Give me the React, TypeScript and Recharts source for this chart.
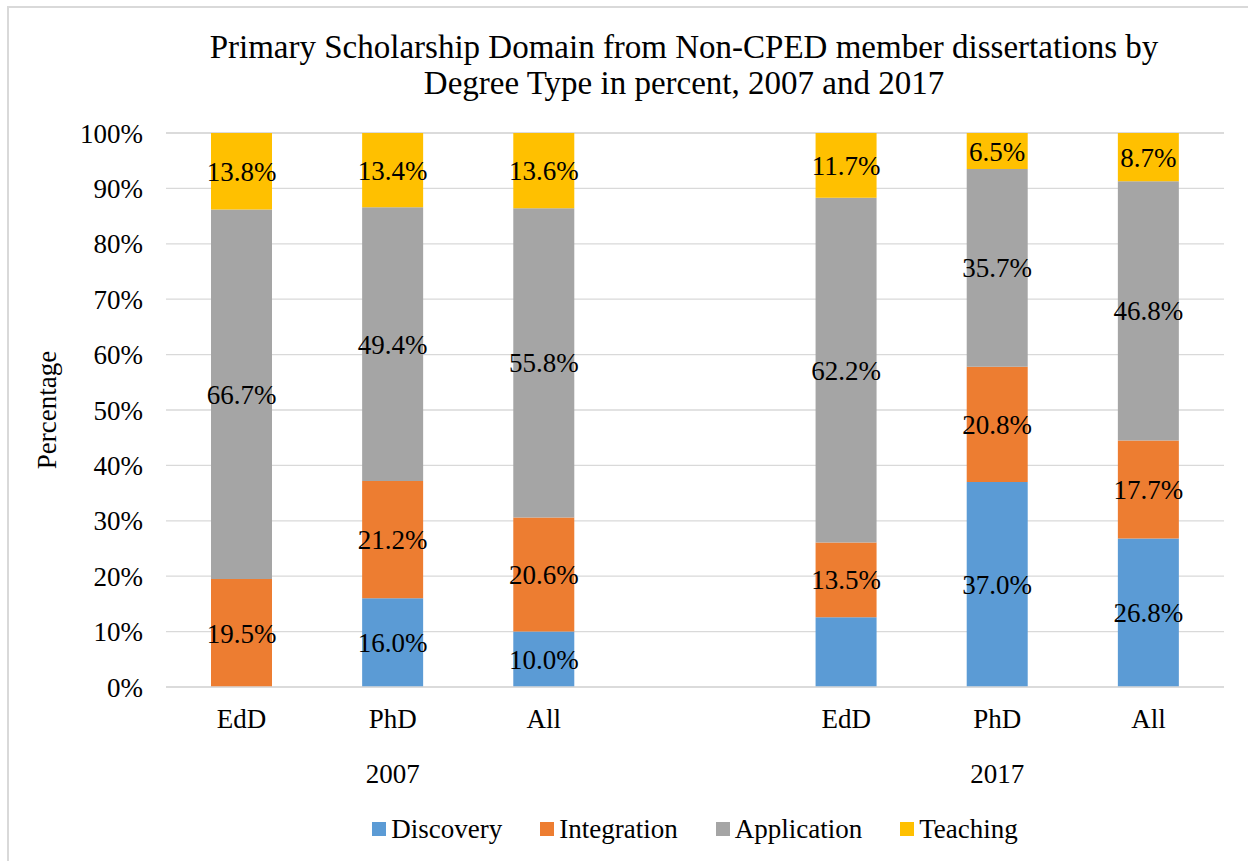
import React from 'react';
import { BarChart, Bar, XAxis, YAxis, CartesianGrid, Legend, LabelList } from 'recharts';

const FONT = '"Liberation Serif", "Times New Roman", serif';
const FS = 27;

const categories = ['EdD', 'PhD', 'All', '', 'EdD', 'PhD', 'All'];
const years = ['2007', '2007', '2007', '', '2017', '2017', '2017'];
const discovery = [0, 16.0, 10.0, null, 12.6, 37.0, 26.8];
const integration = [19.5, 21.2, 20.6, null, 13.5, 20.8, 17.7];
const application = [66.7, 49.4, 55.8, null, 62.2, 35.7, 46.8];
const teaching = [13.8, 13.4, 13.6, null, 11.7, 6.5, 8.7];
const discoveryLabelShown = [false, true, true, false, false, true, true];
const yTicks = [0, 10, 20, 30, 40, 50, 60, 70, 80, 90, 100];

const seriesNames = ['Discovery', 'Integration', 'Application', 'Teaching'];
const COLORS: Record<string, string> = {
  Discovery: '#5B9BD5',
  Integration: '#ED7D31',
  Application: '#A5A5A5',
  Teaching: '#FFC000',
};

const fmt = (v: number | null) => (v == null || v === 0 ? '' : `${v.toFixed(1)}%`);

const data = categories.map((c, i) => ({
  cat: c,
  year: years[i],
  Discovery: discovery[i],
  Integration: integration[i],
  Application: application[i],
  Teaching: teaching[i],
  dLabel: discoveryLabelShown[i] ? fmt(discovery[i]) : '',
  iLabel: fmt(integration[i]),
  aLabel: fmt(application[i]),
  tLabel: fmt(teaching[i]),
}));

// middle index of each year group
const groupMid: Record<number, string> = {};
{
  let start = 0;
  for (let i = 1; i <= years.length; i++) {
    if (i === years.length || years[i] !== years[start]) {
      if (years[start]) groupMid[Math.floor((start + i - 1) / 2)] = years[start];
      start = i;
    }
  }
}

const XTick = (props: any) => {
  const { x, y, payload } = props;
  const i = payload.index;
  return (
    <g>
      <text x={x} y={y + 41} textAnchor="middle" fontFamily={FONT} fontSize={FS} fill="#000">
        {payload.value}
      </text>
      {groupMid[i] ? (
        <text x={x} y={y + 96} textAnchor="middle" fontFamily={FONT} fontSize={FS} fill="#000">
          {groupMid[i]}
        </text>
      ) : null}
    </g>
  );
};

const LegendContent = (props: any) => {
  const payload = [...(props.payload || [])].sort(
    (a: any, b: any) => seriesNames.indexOf(a.value) - seriesNames.indexOf(b.value)
  );
  return (
    <div style={{ display: 'flex', justifyContent: 'center', alignItems: 'center', fontFamily: FONT, fontSize: FS, color: '#000', height: 40 }}>
      {payload.map((p: any, idx: number) => (
        <span key={p.value} style={{ display: 'flex', alignItems: 'center', marginLeft: idx === 0 ? 0 : 38 }}>
          <span style={{ display: 'inline-block', width: 14, height: 14, background: p.color, marginRight: 5 }} />
          {p.value}
        </span>
      ))}
    </div>
  );
};

const YLabel = (props: any) => {
  const { viewBox } = props;
  const cx = viewBox.x - 59;
  const cy = viewBox.y + viewBox.height / 2;
  return (
    <text x={cx} y={cy} transform={`rotate(-90 ${cx} ${cy})`} textAnchor="middle" dominantBaseline="central" fontFamily={FONT} fontSize={FS} fill="#000">
      Percentage
    </text>
  );
};

const labelStyle = { fontFamily: FONT, fontSize: FS, fill: '#000' };

export default function App() {
  return (
    <div style={{ position: 'absolute', left: 0, top: 0, width: 1248, height: 861, background: '#fff', overflow: 'hidden' }}>
      <div style={{ position: 'absolute', left: 7, top: 6, width: 1300, height: 900, borderTop: '2px solid #D9D9D9', borderLeft: '2px solid #D9D9D9' }} />
      <div style={{ position: 'absolute', left: 184, top: 29, width: 1000, textAlign: 'center', fontFamily: FONT, fontSize: 33, lineHeight: '36px', color: '#000', whiteSpace: 'nowrap' }}>
        Primary Scholarship Domain from Non-CPED member dissertations by
        <br />
        Degree Type in percent, 2007 and 2017
      </div>
      <div style={{ position: 'absolute', left: 0, top: 0 }}>
        <BarChart width={1248} height={861} data={data} margin={{ top: 133, right: 24, bottom: 12, left: 106 }} barSize={61}>
          <CartesianGrid vertical={false} stroke="#D9D9D9" strokeWidth={1.3} />
          <XAxis dataKey="cat" tick={<XTick />} tickLine={false} axisLine={{ stroke: '#D9D9D9', strokeWidth: 1.3 }} tickSize={0} tickMargin={0} height={122} interval={0} />
          <YAxis
            type="number"
            domain={[0, 100]}
            ticks={yTicks}
            tickFormatter={(v: number) => `${v}%`}
            axisLine={false}
            tickLine={false}
            tickSize={0}
            tickMargin={23}
            width={60}
            tick={{ fontFamily: FONT, fontSize: FS, fill: '#000' }}
            label={<YLabel />}
          />
          <Legend verticalAlign="bottom" height={40} content={<LegendContent />} wrapperStyle={{ left: 166, width: 1058 }} />
          <Bar dataKey="Discovery" stackId="a" fill={COLORS.Discovery} isAnimationActive={false}>
            <LabelList dataKey="dLabel" position="center" style={labelStyle} />
          </Bar>
          <Bar dataKey="Integration" stackId="a" fill={COLORS.Integration} isAnimationActive={false}>
            <LabelList dataKey="iLabel" position="center" style={labelStyle} />
          </Bar>
          <Bar dataKey="Application" stackId="a" fill={COLORS.Application} isAnimationActive={false}>
            <LabelList dataKey="aLabel" position="center" style={labelStyle} />
          </Bar>
          <Bar dataKey="Teaching" stackId="a" fill={COLORS.Teaching} isAnimationActive={false}>
            <LabelList dataKey="tLabel" position="center" style={labelStyle} />
          </Bar>
        </BarChart>
      </div>
    </div>
  );
}
